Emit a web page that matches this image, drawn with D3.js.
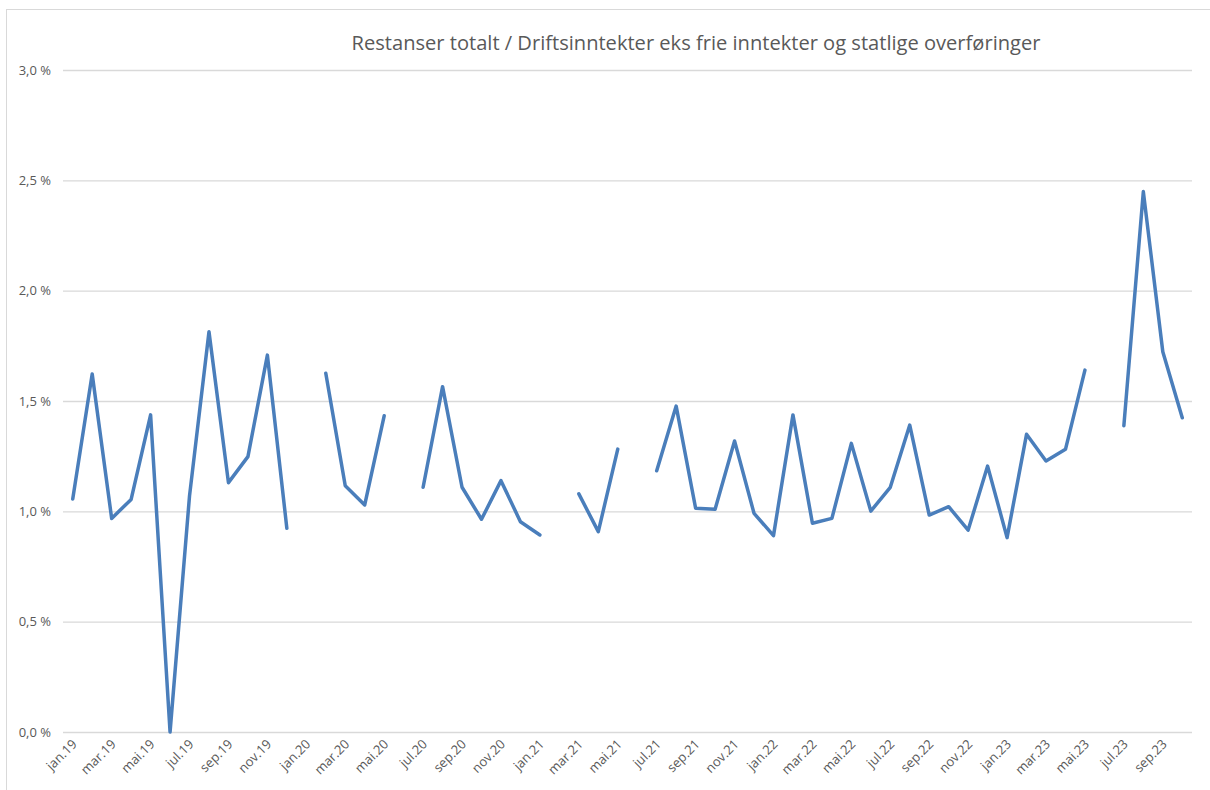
<!DOCTYPE html>
<html>
<head>
<meta charset="utf-8">
<script src="https://cdn.jsdelivr.net/npm/d3@7"></script>
<style>
  body { margin: 0; background: #fff; }
  text { font-family: 'Open Sans', 'Noto Sans', sans-serif; fill: #595959; }
</style>
</head>
<body>
<svg width="1210" height="790"></svg>
<script>
const titleText = 'Restanser totalt / Driftsinntekter eks frie inntekter og statlige overføringer';

const monthNames = ['jan', 'feb', 'mar', 'apr', 'mai', 'jun', 'jul', 'aug', 'sep', 'okt', 'nov', 'des'];
const years = ['19', '20', '21', '22', '23'];

// one value per month, jan.19 - okt.23 (null = gap in the line)
const values2019 = [1.056, 1.622, 0.968, 1.054, 1.437, 0.0, 1.07, 1.814, 1.130, 1.248, 1.708, 0.923];
const values2020 = [null, 1.626, 1.116, 1.029, 1.433, null, 1.109, 1.565, 1.109, 0.964, 1.139, 0.953];
const values2021 = [0.893, null, 1.079, 0.908, 1.282, null, 1.184, 1.477, 1.014, 1.009, 1.319, 0.991];
const values2022 = [0.890, 1.437, 0.946, 0.968, 1.308, 1.001, 1.109, 1.391, 0.983, 1.021, 0.915, 1.205];
const values2023 = [0.881, 1.349, 1.228, 1.281, 1.640, null, 1.388, 2.449, 1.723, 1.424];

const yTicks = [0, 0.5, 1.0, 1.5, 2.0, 2.5, 3.0];

const svg = d3.select('svg');

const allValues = [values2019, values2020, values2021, values2022, values2023];
const data = [];
allValues.forEach((arr, yi) => {
  arr.forEach((v, mi) => {
    data.push({ label: monthNames[mi] + '.' + years[yi], month: mi, value: v });
  });
});

const render = data => {
  const margin = { top: 70, left: 63, right: 18, bottom: 58 };
  const plotRight = 1192;
  const plotBottom = 732;

  // outer chart border
  svg.append('rect')
    .attr('x', 6.5)
    .attr('y', 9.5)
    .attr('width', 1300)
    .attr('height', 900)
    .attr('fill', 'none')
    .attr('stroke', '#d9d9d9')
    .attr('stroke-width', 1);

  const xScale = d3.scaleBand()
    .domain(data.map(d => d.label))
    .range([margin.left, plotRight]);

  const yScale = d3.scaleLinear()
    .domain([0, 3])
    .range([plotBottom, margin.top]);

  const g = svg.append('g');

  // gridlines + y labels
  const yAxis = d3.axisLeft(yScale)
    .tickValues(yTicks)
    .tickSize(-(plotRight - margin.left))
    .tickPadding(12)
    .tickFormat(d => d3.format('.1f')(d).replace('.', ',') + ' %');

  const yAxisG = g.append('g')
    .attr('transform', `translate(${margin.left},0)`)
    .call(yAxis);
  yAxisG.select('.domain').remove();
  yAxisG.selectAll('line').attr('stroke', '#d9d9d9').attr('stroke-width', 1.3);
  yAxisG.selectAll('text')
    .style('font-size', '13px')
    .attr('fill', '#595959');

  // x labels, every second month
  const xAxis = d3.axisBottom(xScale)
    .tickValues(data.filter(d => d.month % 2 === 0).map(d => d.label))
    .tickSize(0)
    .tickPadding(0);

  const xAxisG = g.append('g')
    .attr('transform', `translate(0,${plotBottom})`)
    .call(xAxis);
  xAxisG.select('.domain').remove();
  xAxisG.selectAll('text')
    .style('font-size', '13px')
    .attr('fill', '#595959')
    .attr('text-anchor', 'end')
    .attr('dy', null)
    .attr('y', 0)
    .attr('transform', 'translate(5,13) rotate(-45)');

  // the series line
  const line = d3.line()
    .defined(d => d.value !== null)
    .x(d => xScale(d.label) + xScale.bandwidth() / 2)
    .y(d => yScale(d.value));

  g.append('path')
    .datum(data)
    .attr('fill', 'none')
    .attr('stroke', '#4a7ebb')
    .attr('stroke-width', 3.5)
    .attr('stroke-linejoin', 'round')
    .attr('stroke-linecap', 'round')
    .attr('d', line);

  // title
  const title = svg.append('text')
    .attr('x', 696)
    .attr('y', 50)
    .attr('text-anchor', 'middle')
    .style('font-size', '18px')
    .text(titleText);
  const w = title.node().getComputedTextLength();
  title.style('font-size', (18 * 689 / w).toFixed(2) + 'px');
};

render(data);
</script>
</body>
</html>
